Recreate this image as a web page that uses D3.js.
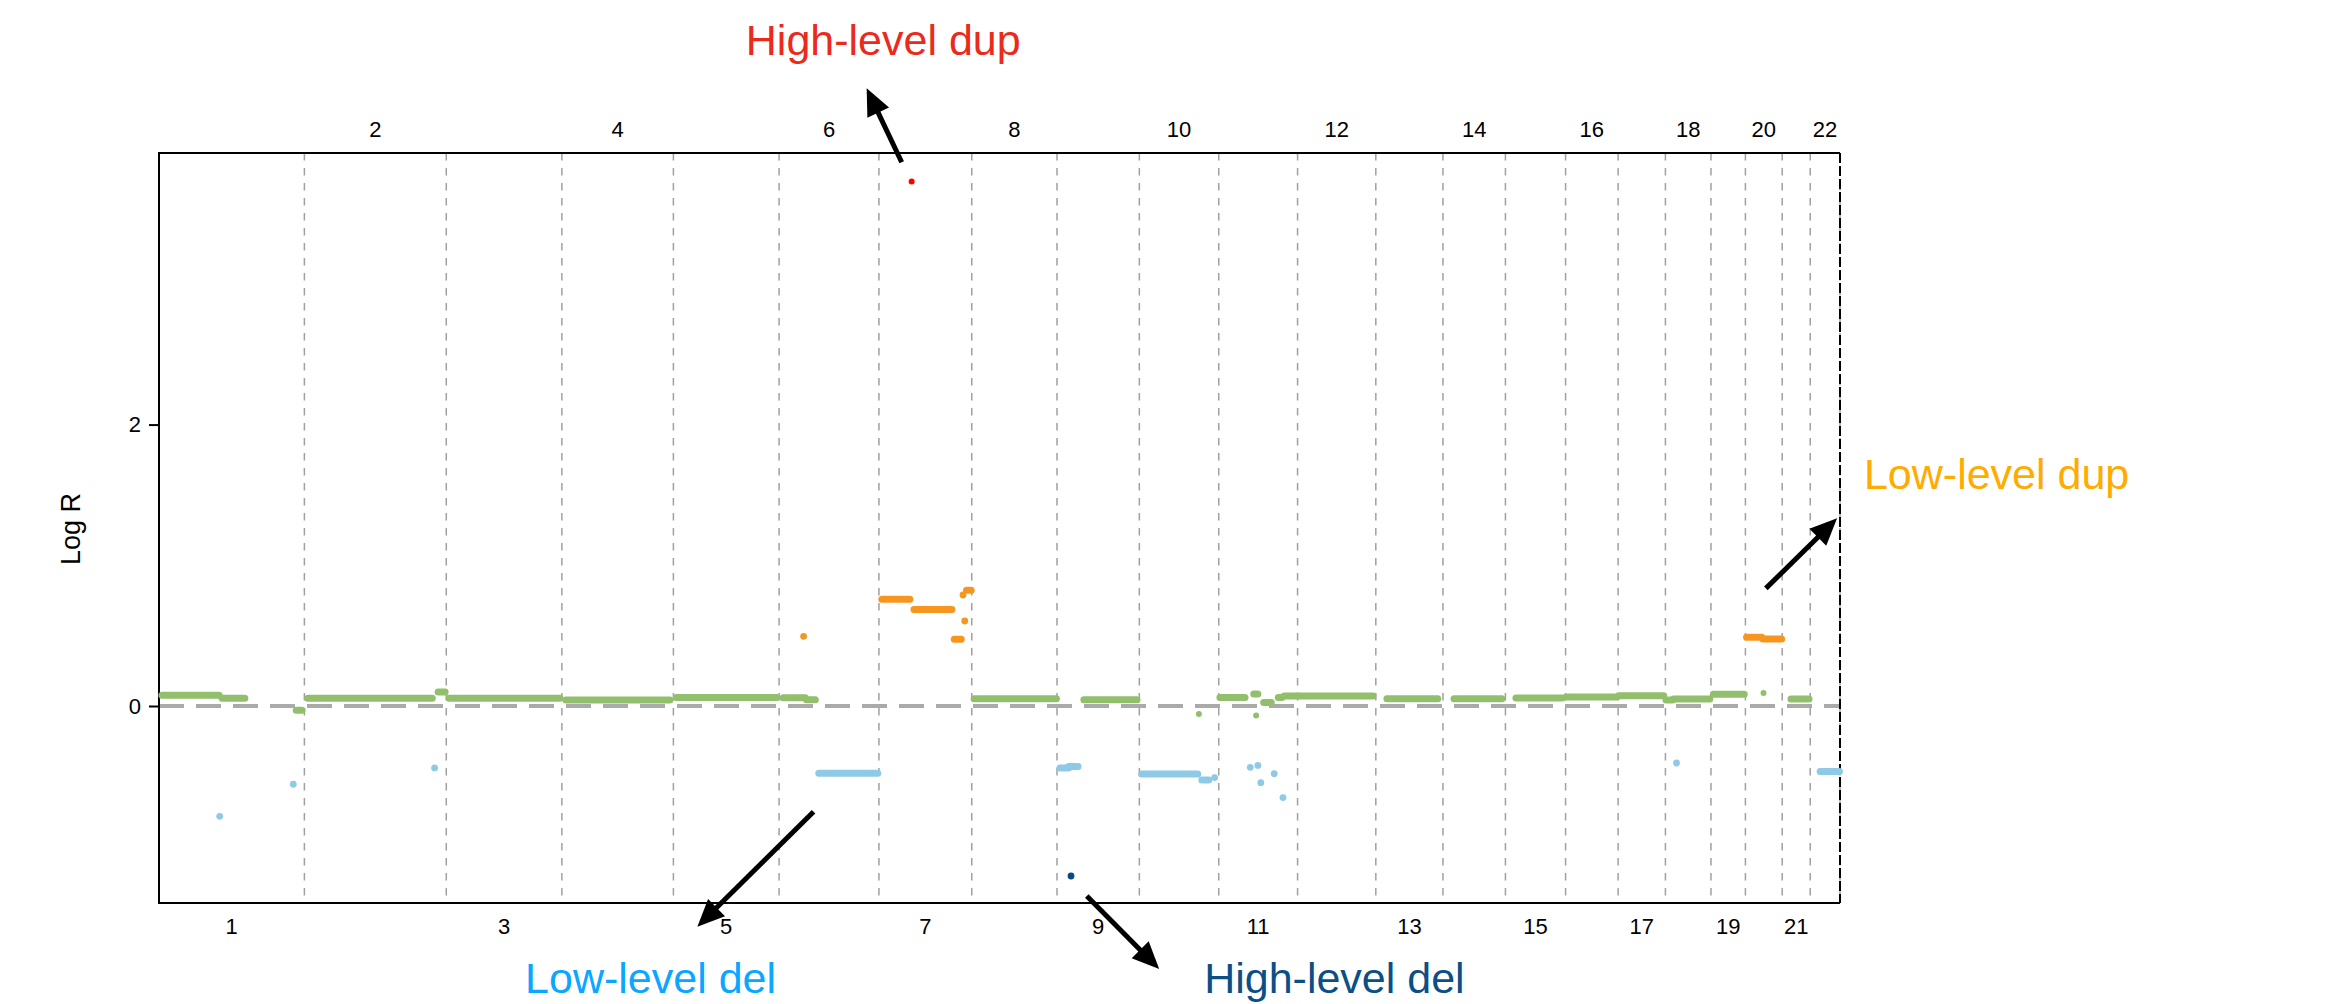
<html>
<head>
<script src="https://d3js.org/d3.v7.min.js"></script>
<style>
  body { margin: 0; background: #fff; }
  text { font-family: "Liberation Sans", Arial, Helvetica, sans-serif; }
</style>
</head>
<body>
<div id="chart"></div>
<script>
// chromosome names and hg19 lengths (Mb)
const chromNames = ['1','2','3','4','5','6','7','8','9','10','11','12','13','14','15','16','17','18','19','20','21','22'];
const chromLengths = [249, 243, 198, 191, 181, 171, 159, 146, 141, 136, 135, 134, 115, 107, 103, 90, 81, 78, 59, 63, 48, 51];
const yTicks = [0, 2];

// segments: [chrom, startMb, endMb, logR]
const neutralSegs = [
  [1, 5, 103, 0.076], [1, 108, 147, 0.055], [1, 235, 245, -0.03],
  [2, 6, 219, 0.055], [2, 229, 241, 0.10],
  [3, 5, 195, 0.055],
  [4, 7, 185, 0.043],
  [5, 5, 177, 0.06],
  [6, 7, 45, 0.058], [6, 47, 62, 0.045],
  [8, 4, 145, 0.052],
  [9, 46, 137, 0.045],
  [11, 2, 45, 0.06], [11, 60, 67, 0.085], [11, 77, 90, 0.024], [11, 102, 108, 0.06], [11, 112, 135, 0.071],
  [12, 0, 129, 0.071],
  [13, 19, 106, 0.052],
  [14, 19, 101, 0.052],
  [15, 18, 97, 0.057],
  [16, 1, 88, 0.064],
  [17, 1, 78, 0.073],
  [18, 1, 12, 0.043], [18, 14, 76, 0.05],
  [19, 4, 57, 0.083],
  [21, 15, 46, 0.05]
];
const neutralPoints = [[10, 102, -0.057], [11, 64, -0.068], [20, 31, 0.093]];

const lossSegs = [
  [6, 68, 169, -0.478],
  [9, 5, 20, -0.44], [9, 20, 36, -0.43],
  [10, 4, 100, -0.483], [10, 107, 119, -0.526],
  [22, 17, 50, -0.466]
];
const lossPoints = [
  [1, 104, -0.784], [1, 230, -0.556], [2, 223, -0.44], [10, 129, -0.509],
  [11, 54, -0.436], [11, 67, -0.422], [11, 72, -0.545], [11, 95, -0.481], [11, 110, -0.651],
  [18, 19, -0.405]
];

const gainSegs = [
  [7, 5, 53, 0.758], [7, 60, 125, 0.685], [7, 129, 141, 0.474], [7, 150, 158, 0.822],
  [20, 2, 28, 0.488], [20, 30, 62, 0.476]
];
const gainPoints = [[6, 42, 0.495], [7, 144, 0.789], [7, 147, 0.604]];

const ampPoints = [[7, 56, 3.727]];
const deepDelPoints = [[9, 24, -1.208]];

// annotations in data units: genome Mb / logR
const annoLabels = ['High-level dup', 'Low-level dup', 'Low-level del', 'High-level del'];
const annoColors = ['#ec2a1c', '#ffab00', '#0aa6ff', '#0b4f86'];
const annoText = [[1005, 4.626], [2920, 1.542], [627, -2.037], [1790, -2.040]];
const annoFrom = [[1272, 3.864], [2752, 0.836], [1121, -0.751], [1589, -1.350]];
const annoTo = [[1212, 4.390], [2874, 1.334], [922, -1.568], [1713, -1.869]];

const width = 2326, height = 1004;
const svg = d3.select('#chart').append('svg')
  .attr('width', width)
  .attr('height', height);

const margins = { top: 153, right: 486, bottom: 101, left: 159 };
const chartWidth = width - margins.left - margins.right;
const chartHeight = height - margins.top - margins.bottom;

const offsets = [];
let acc = 0;
chromLengths.forEach(len => { offsets.push(acc); acc += len; });
const totalMb = acc;
const gpos = (c, mb) => offsets[c - 1] + mb;

const xScale = d3.scaleLinear().domain([0, totalMb]).range([margins.left, margins.left + chartWidth]);
const yScale = d3.scaleLinear().domain([-1.40, 3.93]).range([margins.top + chartHeight, margins.top]);

const plotTop = margins.top, plotBottom = margins.top + chartHeight;
const plotLeft = margins.left, plotRight = margins.left + chartWidth;

// chromosome boundaries
const bounds = offsets.slice(1).concat([totalMb]);
svg.append('g').selectAll('line')
  .data(bounds).join('line')
  .attr('x1', d => xScale(d)).attr('x2', d => xScale(d))
  .attr('y1', plotTop).attr('y2', plotBottom)
  .attr('stroke', '#a0a0a0')
  .attr('stroke-width', 1.5)
  .attr('stroke-dasharray', '7.5,7.5');

// zero line
svg.append('line')
  .attr('x1', plotLeft).attr('x2', plotRight)
  .attr('y1', yScale(0)).attr('y2', yScale(0))
  .attr('stroke', '#aaaaaa')
  .attr('stroke-width', 4)
  .attr('stroke-dasharray', '25,12');

// frame
svg.append('path')
  .attr('d', `M${plotRight},${plotTop}H${plotLeft}V${plotBottom}H${plotRight}`)
  .attr('fill', 'none')
  .attr('stroke', '#000')
  .attr('stroke-width', 2);
svg.append('line')
  .attr('x1', plotRight).attr('x2', plotRight).attr('y1', plotTop).attr('y2', plotBottom)
  .attr('stroke', '#000').attr('stroke-width', 2)
  .attr('stroke-dasharray', '10,3');

// y axis
const leftAxis = d3.axisLeft(yScale).tickValues(yTicks).tickSize(10).tickPadding(8).tickFormat(d3.format('d'));
const yAxisG = svg.append('g')
  .attr('transform', `translate(${plotLeft},0)`)
  .call(leftAxis);
yAxisG.select('.domain').remove();
yAxisG.selectAll('.tick line').attr('stroke', '#000').attr('stroke-width', 2);
yAxisG.selectAll('.tick text')
  .attr('fill', '#000')
  .style('font-size', '22px')
  .style('font-family', '"Liberation Sans", Arial, sans-serif');

svg.append('text')
  .attr('transform', `translate(80,${(plotTop + plotBottom) / 2 + 1}) rotate(-90)`)
  .attr('text-anchor', 'middle')
  .style('font-size', '27px')
  .text('Log R');

// chromosome labels: odd below, even above
chromNames.forEach((name, i) => {
  const mid = offsets[i] + chromLengths[i] / 2;
  const odd = (i % 2 === 0);
  svg.append('text')
    .attr('x', xScale(mid))
    .attr('y', odd ? plotBottom + 31 : plotTop - 16)
    .attr('text-anchor', 'middle')
    .style('font-size', '22px')
    .text(name);
});

// segments and points
function drawSegs(segs, color) {
  svg.append('g').selectAll('line')
    .data(segs).join('line')
    .attr('x1', d => xScale(gpos(d[0], d[1])))
    .attr('x2', d => xScale(gpos(d[0], d[2])))
    .attr('y1', d => yScale(d[3]))
    .attr('y2', d => yScale(d[3]))
    .attr('stroke', color)
    .attr('stroke-width', 7)
    .attr('stroke-linecap', 'round');
}
function drawPoints(pts, color, r) {
  svg.append('g').selectAll('circle')
    .data(pts).join('circle')
    .attr('cx', d => xScale(gpos(d[0], d[1])))
    .attr('cy', d => yScale(d[2]))
    .attr('r', r)
    .attr('fill', color);
}
drawSegs(neutralSegs, '#91bf6b');
drawPoints(neutralPoints, '#91bf6b', 3);
drawSegs(lossSegs, '#8ec9e6');
drawPoints(lossPoints, '#8ec9e6', 3.4);
drawSegs(gainSegs, '#f7961f');
drawPoints(gainPoints, '#f7961f', 3.4);
drawPoints(ampPoints, '#ff0000', 3);
drawPoints(deepDelPoints, '#0b4a80', 3.4);

// annotation arrows and labels
annoLabels.forEach((label, i) => {
  const x0 = xScale(annoFrom[i][0]), y0 = yScale(annoFrom[i][1]);
  const x1 = xScale(annoTo[i][0]), y1 = yScale(annoTo[i][1]);
  const ang = Math.atan2(y1 - y0, x1 - x0);
  const headLen = 27, headHalf = 12;
  const bx = x1 - headLen * Math.cos(ang), by = y1 - headLen * Math.sin(ang);
  svg.append('line')
    .attr('x1', x0).attr('y1', y0)
    .attr('x2', bx + 4 * Math.cos(ang)).attr('y2', by + 4 * Math.sin(ang))
    .attr('stroke', '#000')
    .attr('stroke-width', 5);
  const pts = [
    [x1, y1],
    [bx + headHalf * Math.sin(ang), by - headHalf * Math.cos(ang)],
    [bx - headHalf * Math.sin(ang), by + headHalf * Math.cos(ang)]
  ];
  svg.append('polygon')
    .attr('points', pts.map(p => p.join(',')).join(' '))
    .attr('fill', '#000');
  svg.append('text')
    .attr('x', xScale(annoText[i][0]))
    .attr('y', yScale(annoText[i][1]))
    .attr('fill', annoColors[i])
    .style('font-size', '43px')
    .text(label);
});
</script>
</body>
</html>
